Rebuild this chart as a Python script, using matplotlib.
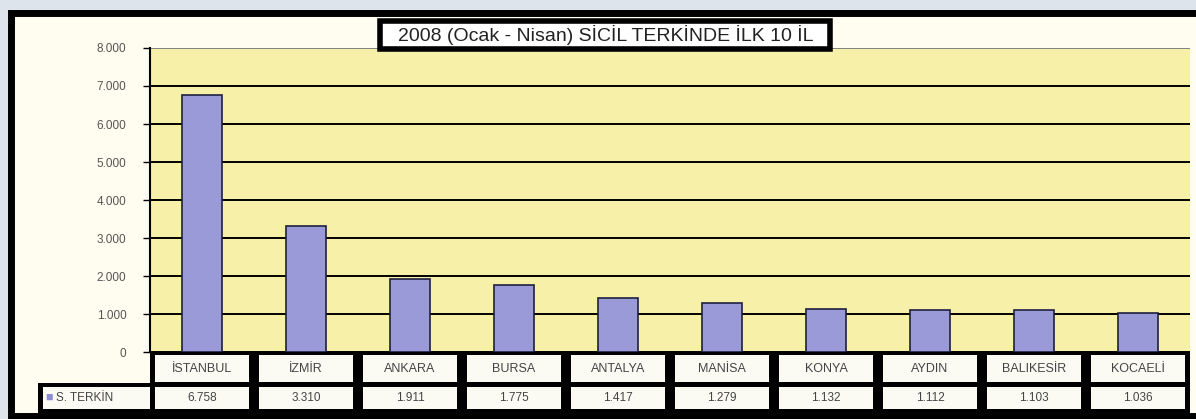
import matplotlib
matplotlib.use("Agg")
import matplotlib.pyplot as plt
from matplotlib.patches import Rectangle
from matplotlib.ticker import FuncFormatter

plt.rcParams['font.family'] = ['Liberation Sans', 'DejaVu Sans']

# data
cities = ['İSTANBUL', 'İZMİR', 'ANKARA', 'BURSA', 'ANTALYA',
          'MANİSA', 'KONYA', 'AYDIN', 'BALIKESİR', 'KOCAELİ']
terkin = [6758, 3310, 1911, 1775, 1417, 1279, 1132, 1112, 1103, 1036]
series_name = 'S. TERKİN'
title = '2008 (Ocak - Nisan) SİCİL TERKİNDE İLK 10 İL'

W, H = 1196, 419
fig = plt.figure(figsize=(W / 100, H / 100), dpi=100)
fig.patch.set_facecolor('#dde4ec')

def fx(px):
    return px / W

def fy(py):
    return 1 - py / H

# outer chart frame
fig.patches.append(Rectangle((fx(11), fy(416)), fx(1200), fy(13) - fy(416),
                             transform=fig.transFigure, facecolor='#fffdf0',
                             edgecolor='black', linewidth=5, zorder=-5))

# plot area
left, right, top, bottom = 150, 1190, 48, 352
ax = fig.add_axes([fx(left), fy(bottom), fx(right - left), fy(top) - fy(bottom)])
ax.set_facecolor('#f6f0a8')
x = list(range(len(cities)))
ax.bar(x, terkin, width=0.39, color='#9a9ad8', edgecolor='#202040', linewidth=1.2, zorder=3)
ax.set_xlim(-0.5, len(cities) - 0.5)
ax.set_ylim(0, 8000)
ax.set_yticks(range(0, 8001, 1000))
ax.yaxis.set_major_formatter(FuncFormatter(lambda v, p: f'{int(v):,}'.replace(',', '.')))
ax.tick_params(axis='y', labelsize=8.5, labelcolor='#555555', length=5, width=1, pad=12)
ax.set_xticks([])
ax.grid(axis='y', color='black', linewidth=1.4, zorder=1)
ax.get_ygridlines()[-1].set_color('#808080')
for s in ['top', 'right', 'bottom']:
    ax.spines[s].set_visible(False)
ax.spines['left'].set_linewidth(1.5)

# data table under the plot
tax = fig.add_axes([fx(left), fy(413), fx(right - left), fy(bottom) - fy(413)])
tax.set_xlim(-0.5, len(cities) - 0.5)
tax.set_ylim(2, 0)
tax.axis('off')
tax.add_patch(Rectangle((-0.5, 0), len(cities), 2, facecolor='black', zorder=0))
legx0 = (38 - left) / 104 - 0.5
tax.add_patch(Rectangle((legx0, 1.0), -0.5 - legx0, 1, facecolor='black',
                        clip_on=False, zorder=0))
gx, gy = 0.045, 0.1
for i, (c, v) in enumerate(zip(cities, terkin)):
    tax.add_patch(Rectangle((i - 0.5 + gx, gy), 1 - 2 * gx, 1.05 - 1.6 * gy,
                            facecolor='#fbfbf4', zorder=1))
    tax.add_patch(Rectangle((i - 0.5 + gx, 1.15), 1 - 2 * gx, 0.72,
                            facecolor='#fbfbf4', zorder=1))
    tax.text(i, 0.55, c, ha='center', va='center', fontsize=9, color='#444444', zorder=2)
    tax.text(i, 1.51, f'{v:,}'.replace(',', '.'), ha='center', va='center',
             fontsize=8.5, color='#444444', zorder=2)
tax.add_patch(Rectangle((legx0 + gx, 1.15), -0.5 - legx0 - gx, 0.72,
                        facecolor='#fbfbf4', clip_on=False, zorder=1))
tax.text(legx0 + 0.07, 1.5, '■', ha='left', va='center', fontsize=9,
         color='#8c8cd0', clip_on=False, zorder=2)
tax.text(legx0 + 0.17, 1.51, series_name, ha='left', va='center', fontsize=8.5,
         color='#444444', clip_on=False, zorder=2)

# title box
fig.patches.append(Rectangle((fx(380), fy(49)), fx(450), fy(21) - fy(49),
                             transform=fig.transFigure, facecolor='white',
                             edgecolor='black', linewidth=4, zorder=5))
fig.text(fx(606), fy(35), title, ha='center', va='center', fontsize=14,
         color='#222222', zorder=6)

fig.savefig('out.png', dpi=100, facecolor=fig.get_facecolor())
